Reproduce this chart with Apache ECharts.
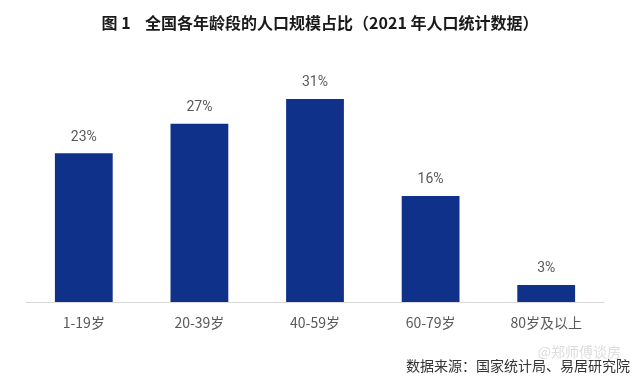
<!DOCTYPE html>
<html>
<head>
<meta charset="utf-8">
<script src="https://cdn.jsdelivr.net/npm/echarts@6/dist/echarts.min.js"></script>
<style>
  html, body { margin: 0; padding: 0; background: #fff; }
  #chart { width: 640px; height: 376px; }
</style>
</head>
<body>
<div id="chart"></div>
<script>
const categories = ['1-19岁', '20-39岁', '40-59岁', '60-79岁', '80岁及以上']
const shares = [22.7, 27.2, 31, 16.2, 2.6]
const shareLabels = ['23%', '27%', '31%', '16%', '3%']

const chart = echarts.init(document.getElementById('chart'))
chart.setOption({
  backgroundColor: '#fff',
  title: [
    {
      text: '图 1    全国各年龄段的人口规模占比（2021 年人口统计数据）',
      left: 'center',
      top: 10,
      textStyle: { fontFamily: 'Noto Sans CJK SC', fontSize: 16, fontWeight: 'bold', color: '#1a1a1a' },
    },
    {
      text: '数据来源：国家统计局、易居研究院',
      right: 5,
      top: 354,
      textStyle: { fontFamily: 'Noto Sans CJK SC', fontSize: 14, fontWeight: 'normal', color: '#333' },
    },
    {
      text: '@郑师傅谈房',
      right: 14,
      top: 340,
      textStyle: { fontFamily: 'Noto Sans CJK SC', fontSize: 14, fontWeight: 'normal', color: '#dcdcdc' },
    },
  ],
  grid: { top: 40, bottom: 74, left: 26, right: 36 },
  xAxis: {
    type: 'category',
    data: categories,
    axisLine: { lineStyle: { color: '#d9d9d9', width: 1 } },
    axisTick: { show: false },
    axisLabel: { color: '#595959', fontSize: 14, margin: 14, fontFamily: 'Noto Sans CJK SC' },
  },
  yAxis: {
    type: 'value',
    min: 0,
    max: 40,
    show: false,
    splitLine: { show: false },
  },
  series: [
    {
      type: 'bar',
      data: shares,
      barWidth: '50%',
      itemStyle: { color: '#10318a' },
      label: {
        show: true,
        position: 'top',
        distance: 9,
        color: '#595959',
        fontSize: 14,
        fontFamily: 'Liberation Sans Narrow, Roboto, sans-serif',
        formatter: (p) => shareLabels[p.dataIndex],
      },
    },
  ],
})
</script>
</body>
</html>
